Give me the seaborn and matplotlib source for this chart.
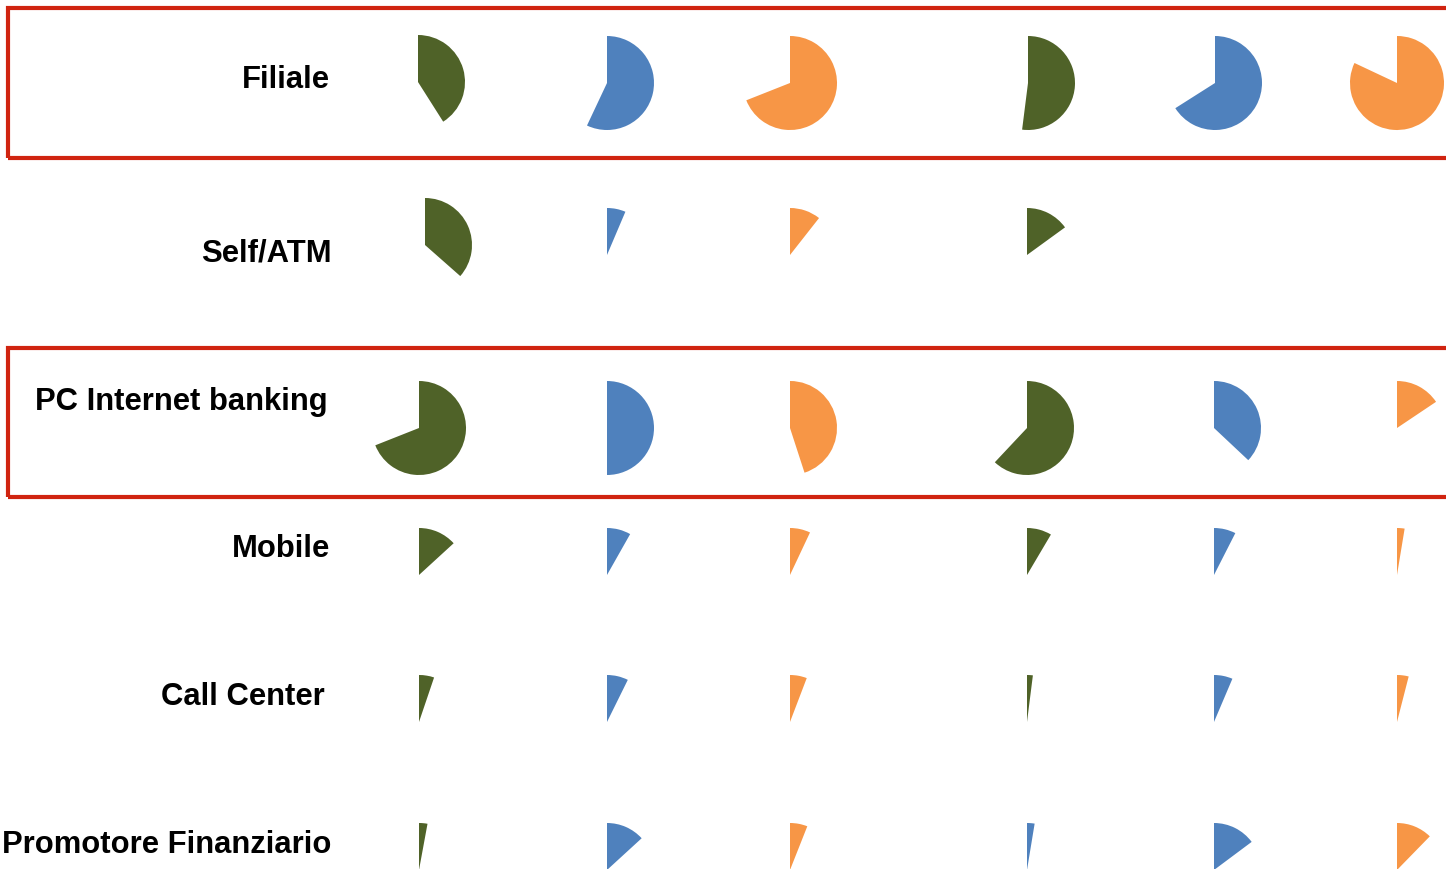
import matplotlib
matplotlib.use("Agg")
import matplotlib.pyplot as plt
from matplotlib.patches import Rectangle
import seaborn as sns

# ---- data (percent share per channel / column) ----
channels = ["Filiale", "Self/ATM", "PC Internet banking", "Mobile",
            "Call Center", "Promotore Finanziario"]
filiale = [41, 57, 69, 52, 66, 82]
self_atm = [36.5, 6.4, 10.6, 15, 0, 0]
pc_banking = [69, 50, 45, 62, 37, 15.6]
mobile = [13.2, 8.2, 7, 8.5, 7.5, 2.6]
call_center = [5.2, 7.3, 5.8, 2, 6.4, 4]
promotore = [2.9, 13.2, 6, 2.6, 14.8, 12.3]
values = [filiale, self_atm, pc_banking, mobile, call_center, promotore]
highlighted = ["Filiale", "PC Internet banking"]

GREEN, BLUE, ORANGE = "#4F6228", "#4F81BD", "#F79646"
col_colors = [GREEN, BLUE, ORANGE, GREEN, BLUE, ORANGE]
row_colors = [col_colors] * 5 + [[GREEN, BLUE, ORANGE, BLUE, BLUE, ORANGE]]

# ---- layout (pixels) ----
W, H = 1446, 869
col_x = [419, 607, 790, 1027, 1214, 1397]
row_y = [83, 255, 428, 575, 722, 870]
label_y = [80, 253, 402, 549, 697, 845]
label_x = [330, 332, 328, 330, 325, 331]
cell_shift = {(1, 0): (6, -10), (0, 0): (-1, -1), (0, 3): (1, 0), (0, 4): (1, 0)}
R = 47

sns.set_theme(style="white")
plt.rcParams["font.family"] = ["Liberation Sans Narrow", "Liberation Sans", "DejaVu Sans"]

fig = plt.figure(figsize=(W / 100, H / 100), dpi=100)
ax = fig.add_axes([0, 0, 1, 1])

for i, name in enumerate(channels):
    for j, v in enumerate(values[i]):
        if not v:
            continue
        dx, dy = cell_shift.get((i, j), (0, 0))
        ax.pie([v, 100 - v], colors=[row_colors[i][j], "none"],
               startangle=90, counterclock=False,
               center=(col_x[j] + dx, H - (row_y[i] + dy)), radius=R,
               frame=True, wedgeprops=dict(linewidth=0))

ax.set_xlim(0, W)
ax.set_ylim(0, H)
ax.set_aspect("equal")
ax.axis("off")

# labels: one common size so the widest label fits in ~330 px
texts = []
for i, name in enumerate(channels):
    t = ax.text(label_x[i], H - label_y[i], name, ha="right", va="center",
                fontsize=30, fontweight="bold", color="black")
    texts.append(t)
fig.canvas.draw()
r = fig.canvas.get_renderer()
widest = max(t.get_window_extent(r).width for t in texts)
size = 30 * 329 / widest
for t in texts:
    t.set_fontsize(size)

# highlight boxes
boxes = {"Filiale": (8, 8, 158), "PC Internet banking": (8, 348, 497)}
for name in highlighted:
    x0, top, bot = boxes[name]
    ax.add_patch(Rectangle((x0, H - bot), W + 20 - x0, bot - top,
                           fill=False, edgecolor="#D02410", linewidth=3,
                           clip_on=True))

fig.savefig("out.png", dpi=100)
